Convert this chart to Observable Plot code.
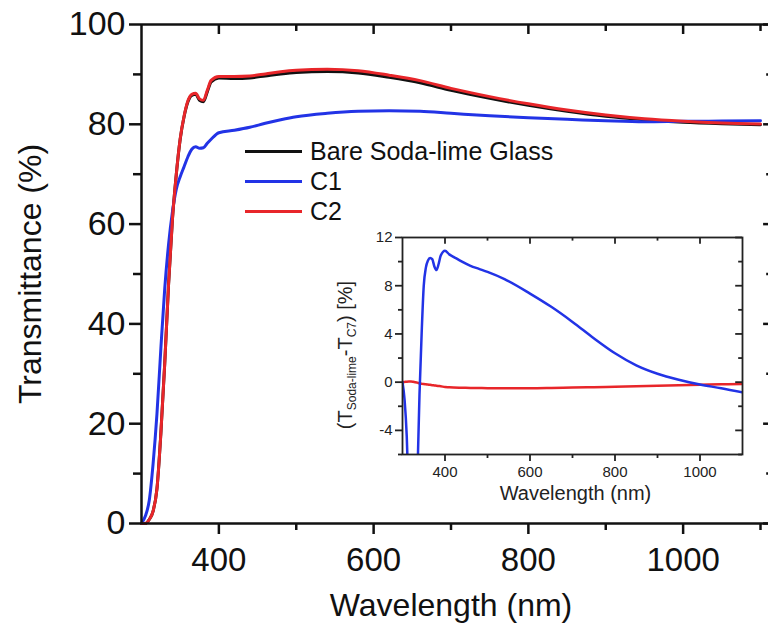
<!DOCTYPE html>
<html>
<head>
<meta charset="utf-8">
<script src="https://cdn.jsdelivr.net/npm/d3@7"></script>
<script src="https://cdn.jsdelivr.net/npm/@observablehq/plot@0.6"></script>
<style>
  html, body { margin: 0; padding: 0; background: white; }
  #wrap { position: relative; width: 768px; height: 626px; overflow: hidden; font-family: "Liberation Sans", Arial, sans-serif; }
  #wrap svg { position: absolute; }
  #legend { position: absolute; left: 245px; top: 136px; font-size: 25px; color: #111; }
  .row { height: 30px; display: flex; align-items: center; white-space: nowrap; }
  .sw { width: 57px; height: 3px; margin-right: 8px; }
</style>
</head>
<body>
<div id="wrap"></div>
<script>
// ---- Main chart data (wavelength nm, transmittance %) ----
const wavelength = [300,305,310,315,320,325,330,335,340,345,350,355,360,365,370,375,380,385,390,400,420,440,460,480,500,540,580,620,660,700,750,800,850,900,950,1000,1050,1100];
const bareGlass  = [0,0,0.8,2.5,7,18,32,48,61,70,77,81.5,84.5,85.8,86,84.8,84.5,86.5,88.5,89.3,89.2,89.3,89.7,90.1,90.4,90.6,90.3,89.4,88.3,86.8,85.2,83.8,82.6,81.6,80.9,80.4,80.1,79.9];
const c1         = [0,1.5,4.6,12,22,35,47,56,62.5,67,69.5,71.5,73.5,75,75.5,75.2,75.3,76.2,77,78.3,78.8,79.4,80.2,80.9,81.5,82.2,82.6,82.7,82.6,82.2,81.7,81.3,81.0,80.7,80.5,80.6,80.65,80.7];
const c2         = [0,0,0.8,2.5,7,18,32,48,61,70,77.1,81.6,84.7,86.0,86.2,85.1,84.8,86.8,88.8,89.6,89.6,89.7,90.1,90.55,90.85,91.05,90.75,89.85,88.75,87.2,85.55,84.1,82.85,81.85,81.1,80.6,80.25,80.05];
const seriesNames = ["Bare Soda-lime Glass", "C1", "C2"];
const seriesColors = ["#111111", "#2233e6", "#e8262a"];

// ---- Inset data (difference, %) ----
const insetWavelength = [300,305,310,315,320,325,330,335,340,345,350,355,360,365,370,375,380,385,390,400,410,420,440,460,480,500,540,600,650,700,750,800,850,900,950,1000,1050,1100];
const insetC1 = [0,-1.5,-4.5,-10,-15,-17,-15,-8,-1,4,8,9.5,10.1,10.3,10.2,9.6,9.3,9.8,10.5,10.9,10.6,10.4,10.0,9.65,9.4,9.15,8.55,7.35,6.25,5.0,3.65,2.4,1.4,0.7,0.2,-0.2,-0.5,-0.85];
const insetC2 = [0,0.02,0.04,0.05,0.05,0.03,0,-0.04,-0.1,-0.13,-0.16,-0.18,-0.2,-0.22,-0.25,-0.27,-0.3,-0.32,-0.34,-0.4,-0.42,-0.44,-0.46,-0.48,-0.49,-0.5,-0.5,-0.5,-0.48,-0.45,-0.42,-0.38,-0.34,-0.3,-0.26,-0.22,-0.18,-0.15];

// ---- Ticks ----
const xMajor = [400,600,800,1000];
const xMinor = [500,700,900,1100];
const xAllTop = [400,500,600,700,800,900,1000,1100];
const yMajor = [0,20,40,60,80,100];
const yMinor = [10,30,50,70,90];
const insetXMajor = [400,600,800,1000];
const insetXMinor = [500,700,900];
const insetYMajor = [-4,0,4,8,12];
const insetYMinor = [-6,-2,2,6,10];

const toRows = (ys) => wavelength.map((x, i) => ({x, y: ys[i]}));
const toInsetRows = (ys) => insetWavelength.map((x, i) => ({x, y: ys[i]}));

const font = "'Liberation Sans', Arial, sans-serif";
const axisW = 2.5;

const main = Plot.plot({
  width: 768, height: 626,
  marginLeft: 141, marginRight: 8, marginTop: 24, marginBottom: 103,
  x: {domain: [300, 1100]},
  y: {domain: [0, 100]},
  style: {fontFamily: font, background: "transparent", color: "#111", overflow: "visible"},
  marks: [
    Plot.line(toRows(bareGlass), {x: "x", y: "y", stroke: seriesColors[0], strokeWidth: 3, curve: "monotone-x"}),
    Plot.line(toRows(c1), {x: "x", y: "y", stroke: seriesColors[1], strokeWidth: 3, curve: "monotone-x"}),
    Plot.line(toRows(c2), {x: "x", y: "y", stroke: seriesColors[2], strokeWidth: 3, curve: "monotone-x"}),
    Plot.axisY(yMajor, {tickSize: 12, tickPadding: 4, fontSize: 34, strokeWidth: axisW, label: null}),
    Plot.axisY(yMinor, {tickSize: 8, tickFormat: () => "", strokeWidth: axisW, label: null}),
    Plot.axisX(xMajor, {tickSize: 11, tickPadding: 13, fontSize: 33, strokeWidth: axisW, label: null, tickFormat: d => String(d)}),
    Plot.axisX(xMinor, {tickSize: 7, tickFormat: () => "", strokeWidth: axisW, label: null}),
    Plot.ruleX(xAllTop, {x: d => d, y1: 100, y2: d => xMajor.includes(d) ? 98 : 98.6, strokeWidth: axisW}),
    Plot.ruleY(yMajor, {y: d => d, x1: 1104, x2: 1114, strokeWidth: axisW}),
    Plot.ruleY(yMinor, {y: d => d, x1: 1108, x2: 1114, strokeWidth: axisW}),
    Plot.ruleX([300], {y1: 0, y2: 100, strokeWidth: axisW}),
    Plot.ruleY([0], {x1: 300, x2: 1114, strokeWidth: axisW}),
    Plot.ruleY([100], {x1: 300, x2: 1114, strokeWidth: axisW}),
    Plot.text(["Wavelength (nm)"], {frameAnchor: "bottom", lineAnchor: "middle", dy: 82, fontSize: 32}),
    Plot.text(["Transmittance (%)"], {frameAnchor: "left", textAnchor: "middle", lineAnchor: "middle", dx: -111, rotate: -90, fontSize: 32})
  ]
});

const insetW = 1.8;
const inset = Plot.plot({
  width: 420, height: 285,
  marginLeft: 72, marginRight: 8, marginTop: 12, marginBottom: 56,
  x: {domain: [300, 1100]},
  y: {domain: [-6, 12]},
  style: {fontFamily: font, background: "transparent", color: "#222", overflow: "visible"},
  marks: [
    Plot.line(toInsetRows(insetC2), {x: "x", y: "y", stroke: seriesColors[2], strokeWidth: 2.5, clip: true, curve: "monotone-x"}),
    Plot.line(toInsetRows(insetC1), {x: "x", y: "y", stroke: seriesColors[1], strokeWidth: 2.5, clip: true, curve: "monotone-x"}),
    Plot.frame({stroke: "#222", strokeWidth: insetW}),
    Plot.axisY(insetYMajor, {tickSize: 7, tickPadding: 3, fontSize: 15, strokeWidth: insetW, label: null, tickFormat: d => String(d)}),
    Plot.axisY(insetYMinor, {tickSize: 4, tickFormat: () => "", strokeWidth: insetW, label: null}),
    Plot.axisX(insetXMajor, {tickSize: 7, tickPadding: 5, fontSize: 15, strokeWidth: insetW, label: null, tickFormat: d => String(d)}),
    Plot.axisX(insetXMinor, {tickSize: 4, tickFormat: () => "", strokeWidth: insetW, label: null}),
    Plot.ruleX(insetXMajor, {x: d => d, y1: 12, y2: 11.45, strokeWidth: insetW}),
    Plot.ruleX(insetXMinor, {x: d => d, y1: 12, y2: 11.7, strokeWidth: insetW}),
    Plot.ruleY(insetYMajor, {y: d => d, x1: 1100, x2: 1084, strokeWidth: insetW}),
    Plot.ruleY(insetYMinor, {y: d => d, x1: 1100, x2: 1091, strokeWidth: insetW}),
    Plot.text(["Wavelength (nm)"], {frameAnchor: "bottom", lineAnchor: "middle", dy: 39, dx: 3, fontSize: 20})
  ]
});

const wrap = document.getElementById("wrap");
main.style.left = "0px"; main.style.top = "0px";
inset.style.left = "330px"; inset.style.top = "225px";
wrap.appendChild(main);
wrap.appendChild(inset);

// Inset y-axis title with subscripts
const yt = d3.select(inset).append("text")
  .attr("transform", "translate(22,130) rotate(-90)")
  .attr("text-anchor", "middle")
  .attr("fill", "#222")
  .attr("font-size", 20)
  .attr("font-family", font);
yt.append("tspan").text("(T");
yt.append("tspan").attr("font-size", 12).attr("dy", 4).text("Soda-lime");
yt.append("tspan").attr("dy", -4).text("-T");
yt.append("tspan").attr("font-size", 12).attr("dy", 4).text("C7");
yt.append("tspan").attr("dy", -4).text(") [%]");

// Legend
const legend = document.createElement("div");
legend.id = "legend";
seriesNames.forEach((name, i) => {
  const row = document.createElement("div");
  row.className = "row";
  const sw = document.createElement("div");
  sw.className = "sw";
  sw.style.background = seriesColors[i];
  const t = document.createElement("span");
  t.textContent = name;
  row.appendChild(sw); row.appendChild(t);
  legend.appendChild(row);
});
wrap.appendChild(legend);
</script>
</body>
</html>
